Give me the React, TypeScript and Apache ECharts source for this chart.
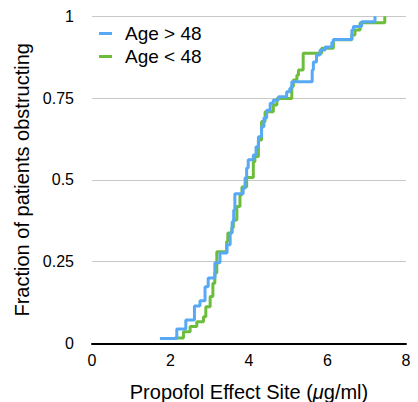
import React, { useEffect, useRef } from "react";
import * as echarts from "echarts";

const olderLabel = "Age > 48";
const youngerLabel = "Age < 48";

const olderX = [1.73, 2.16, 2.39, 2.61, 2.75, 2.88, 2.96, 3.13, 3.26, 3.44, 3.52, 3.57, 3.61, 3.64, 3.85, 3.90, 3.94, 3.98, 4.11, 4.18, 4.24, 4.32, 4.38, 4.45, 4.54, 4.62, 4.75, 4.96, 5.04, 5.09, 5.61, 5.64, 5.72, 5.81, 5.94, 6.11, 6.15, 6.62, 6.66, 6.87, 7.21];
const olderY = [0.015, 0.044, 0.071, 0.114, 0.130, 0.173, 0.200, 0.246, 0.276, 0.301, 0.337, 0.371, 0.408, 0.457, 0.474, 0.506, 0.536, 0.561, 0.576, 0.601, 0.632, 0.662, 0.689, 0.713, 0.734, 0.744, 0.754, 0.769, 0.780, 0.800, 0.836, 0.860, 0.882, 0.897, 0.906, 0.921, 0.929, 0.958, 0.969, 0.983, 1.0];

const youngerX = [2.11, 2.33, 2.50, 2.67, 2.84, 2.90, 3.01, 3.08, 3.13, 3.18, 3.43, 3.46, 3.56, 3.60, 3.69, 3.77, 3.82, 3.94, 4.11, 4.15, 4.24, 4.32, 4.41, 4.62, 4.71, 5.09, 5.13, 5.22, 5.26, 5.38, 5.85, 6.15, 6.62, 6.70, 6.83, 7.46];
const youngerY = [0.016, 0.035, 0.051, 0.066, 0.081, 0.112, 0.143, 0.184, 0.215, 0.280, 0.311, 0.337, 0.353, 0.377, 0.418, 0.454, 0.478, 0.507, 0.555, 0.571, 0.622, 0.678, 0.708, 0.729, 0.749, 0.785, 0.805, 0.820, 0.836, 0.887, 0.902, 0.928, 0.943, 0.958, 0.980, 1.0];

const xTicks = [0, 2, 4, 6, 8];
const yTicks = [0, 0.25, 0.5, 0.75, 1];

const FONT = "'Liberation Sans', Arial, Helvetica, sans-serif";

export default function App() {
  const ref = useRef<HTMLDivElement>(null);
  useEffect(() => {
    if (!ref.current) return;
    const chart = echarts.init(ref.current, undefined, { renderer: "svg" });
    const older = olderX.map((x, i) => [x, olderY[i]]);
    const younger = youngerX.map((x, i) => [x, youngerY[i]]);
    chart.setOption({
      animation: false,
      textStyle: { fontFamily: FONT },
      grid: { left: 92, right: 12, top: 16.3, bottom: 58.7, containLabel: false, outerBoundsMode: "none" },
      legend: {
        orient: "vertical",
        left: 94,
        top: 19,
        data: [olderLabel, youngerLabel],
        icon: "rect",
        itemWidth: 13,
        itemHeight: 3,
        itemGap: 4,
        textStyle: { fontFamily: FONT, fontSize: 19, color: "#000", padding: [0, 0, 0, 8], lineHeight: 19 },
      },
      xAxis: {
        type: "value",
        min: xTicks[0],
        max: xTicks[xTicks.length - 1],
        interval: 2,
        name: "Propofol Effect Site ({i|μ}g/ml)",
        nameLocation: "middle",
        nameGap: 39,
        nameTextStyle: {
          fontFamily: FONT,
          fontSize: 20,
          color: "#000",
          rich: { i: { fontFamily: FONT, fontSize: 20, fontStyle: "italic", color: "#000" } },
        },
        axisLine: { show: true, lineStyle: { color: "#000", width: 2 } },
        axisTick: { show: false },
        splitLine: { show: false },
        axisLabel: { fontFamily: FONT, fontSize: 16, color: "#000", margin: 9 },
      },
      yAxis: {
        type: "value",
        min: yTicks[0],
        max: yTicks[yTicks.length - 1],
        interval: 0.25,
        name: "Fraction of patients obstructing",
        nameLocation: "middle",
        nameGap: 60,
        nameTextStyle: { fontFamily: FONT, fontSize: 20, color: "#000" },
        axisLine: { show: false },
        axisTick: { show: false },
        splitLine: { show: true, lineStyle: { color: "#c8c8c8", width: 1.2 } },
        axisLabel: { fontFamily: FONT, fontSize: 16, color: "#000", margin: 18 },
      },
      series: [
        {
          name: youngerLabel,
          type: "line",
          step: "end",
          data: younger,
          showSymbol: false,
          color: "#6cbd3b",
          lineStyle: { color: "#6cbd3b", width: 3 },
          z: 2,
        },
        {
          name: olderLabel,
          type: "line",
          step: "end",
          data: older,
          showSymbol: false,
          color: "#58a9f5",
          lineStyle: { color: "#58a9f5", width: 3 },
          z: 3,
        },
      ],
    });
    return () => chart.dispose();
  }, []);
  return (
    <div
      ref={ref}
      style={{ position: "absolute", left: 0, top: 0, width: 418, height: 402 }}
    />
  );
}
